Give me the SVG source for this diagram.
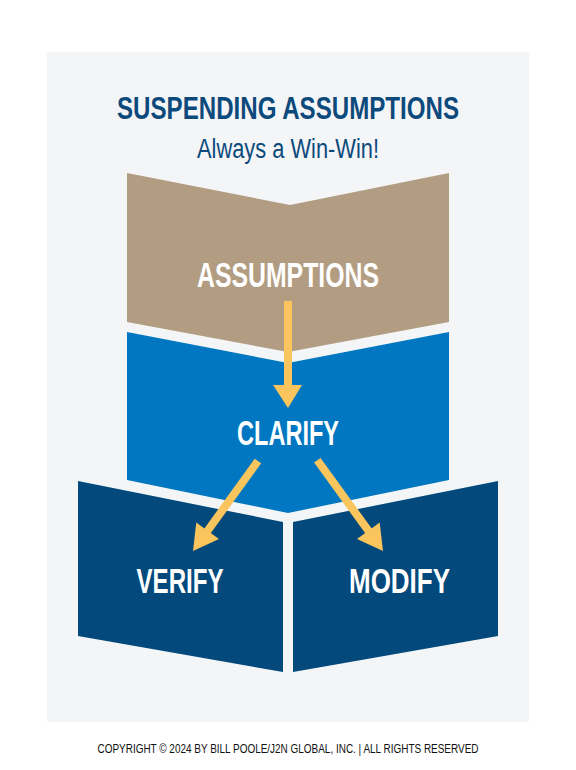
<svg xmlns="http://www.w3.org/2000/svg" width="576" height="770" viewBox="0 0 576 770">
<style>
.lbl{font-family:"Liberation Sans",Arial,sans-serif;font-weight:bold;fill:#ffffff;text-anchor:middle}
.arr{fill:#fbc55d}
</style>
<rect x="0" y="0" width="576" height="770" fill="#ffffff"/>
<rect x="47" y="52" width="482" height="670" fill="#f4f5f7"/>
<g id="title">
<text x="288" y="119" font-family="Liberation Sans, Arial, sans-serif" font-weight="bold" font-size="31" fill="#0c4a7c" text-anchor="middle" textLength="342" lengthAdjust="spacingAndGlyphs">SUSPENDING ASSUMPTIONS</text>
<text x="288" y="158" font-family="Liberation Sans, Arial, sans-serif" font-size="27" fill="#0c4a7c" text-anchor="middle" textLength="182" lengthAdjust="spacingAndGlyphs">Always a Win-Win!</text>
</g>
<g id="assumptions">
<polygon points="127,173 290,205 449,173 449,322 288,352 127,322" fill="#b29d82"/>
<text class="lbl" x="288" y="287" font-size="35" textLength="182" lengthAdjust="spacingAndGlyphs">ASSUMPTIONS</text>
</g>
<g id="clarify">
<polygon points="127,332 288,363 449,332 449,480 288,513 127,480" fill="#0077c0"/>
<text class="lbl" x="288" y="445" font-size="35" textLength="102" lengthAdjust="spacingAndGlyphs">CLARIFY</text>
</g>
<g id="verify">
<polygon points="78,481 283,522 283,672 78,636" fill="#03497c"/>
<text class="lbl" x="180" y="593" font-size="35" textLength="87" lengthAdjust="spacingAndGlyphs">VERIFY</text>
</g>
<g id="modify">
<polygon points="293,522 498,481 498,636 293,672" fill="#03497c"/>
<text class="lbl" x="399.5" y="593" font-size="35" textLength="101" lengthAdjust="spacingAndGlyphs">MODIFY</text>
</g>
<g id="connectors">
<rect class="arr" x="284" y="301" width="8" height="86"/>
<polygon class="arr" points="273,385 302,385 288,408"/>
<g transform="translate(193,551) rotate(35.8)">
<rect class="arr" x="-4" y="-111" width="8" height="90"/>
<polygon class="arr" points="0,0 -14,-25 14,-25"/>
</g>
<g transform="translate(383,551) rotate(-35.9)">
<rect class="arr" x="-4" y="-112" width="8" height="90"/>
<polygon class="arr" points="0,0 -14,-25 14,-25"/>
</g>
</g>
<g id="footer">
<text x="288" y="753" font-family="Liberation Sans, Arial, sans-serif" font-size="12" fill="#111111" text-anchor="middle" textLength="381" lengthAdjust="spacingAndGlyphs">COPYRIGHT © 2024 BY BILL POOLE/J2N GLOBAL, INC. | ALL RIGHTS RESERVED</text>
</g>
</svg>
